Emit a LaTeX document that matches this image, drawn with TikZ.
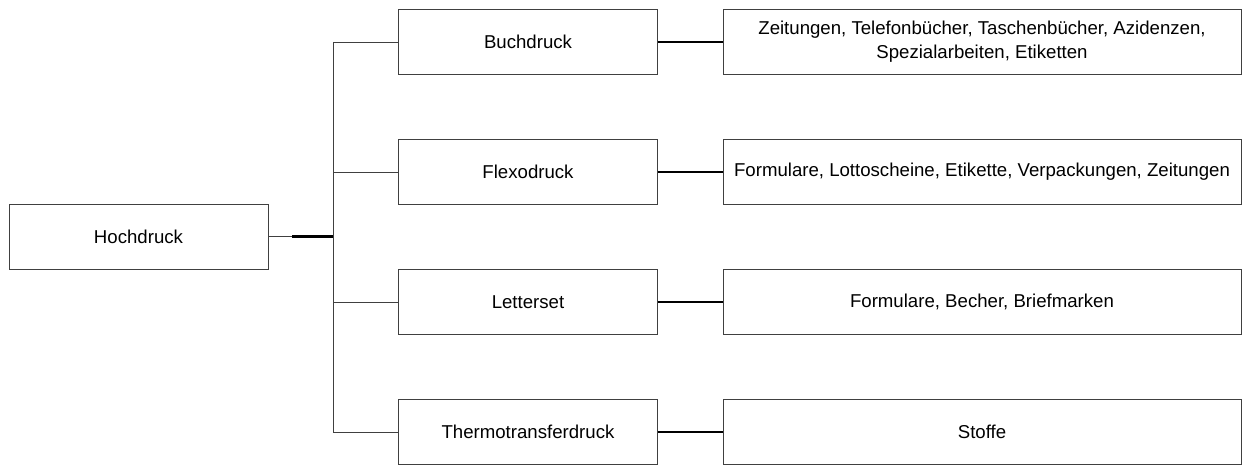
\documentclass[tikz,border=0pt]{standalone}
\usepackage{fontspec}
\setmainfont{Liberation Sans}
\usepackage{xcolor}
\definecolor{boxline}{HTML}{404040}
\usetikzlibrary{positioning, calc}

\begin{document}
\begin{tikzpicture}[x=0.02cm, y=-0.02cm,
  kasten/.style={draw=boxline, line width=0.5pt, minimum height=1.3cm, align=center,
    font=\fontsize{10.6}{13.6}\selectfont, inner sep=2pt},
  links/.style={kasten, minimum width=5.18cm},
  rechts/.style={kasten, minimum width=10.36cm},
  duenn/.style={draw=boxline, line width=0.5pt},
  dick/.style={draw=black, line width=1.2pt}]
\useasboundingbox (0,0) rectangle (1243,465);

% Verfahren
\node[links] (hoch) at (138.5,236.5) {Hochdruck};
\node[links] (buch) at (528,42) {Buchdruck};
\node[links] (flexo) at (528,172) {Flexodruck};
\node[links] (letter) at (528,302) {Letterset};
\node[links] (thermo) at (528,432) {Thermotransferdruck};

% Anwendungen
\node[rechts] (buchuse) at (982,42) {Zeitungen, Telefonbücher, Taschenbücher, Azidenzen,\\Spezialarbeiten, Etiketten};
\node[rechts] (flexouse) at (982,172) {Formulare, Lottoscheine, Etikette, Verpackungen, Zeitungen};
\node[rechts] (letteruse) at (982,302) {Formulare, Becher, Briefmarken};
\node[rechts] (thermouse) at (982,432) {Stoffe};

% Verzweigung
\coordinate (split) at ($(hoch.east)+(24,0)$);
\coordinate (hub) at ($(hoch.east)+(65,0)$);
\draw[duenn] (hoch.east) -- (split);
\draw[dick] (split) -- (hub);
\draw[duenn] (hub |- buch.west) -- (hub |- thermo.west);
\draw[duenn] (hub |- buch.west) -- (buch.west);
\draw[duenn] (hub |- flexo.west) -- (flexo.west);
\draw[duenn] (hub |- letter.west) -- (letter.west);
\draw[duenn] (hub |- thermo.west) -- (thermo.west);

% Verbindungen nach rechts
\draw[dick] (buch) -- (buchuse);
\draw[dick] (flexo) -- (flexouse);
\draw[dick] (letter) -- (letteruse);
\draw[dick] (thermo) -- (thermouse);
\end{tikzpicture}
\end{document}
